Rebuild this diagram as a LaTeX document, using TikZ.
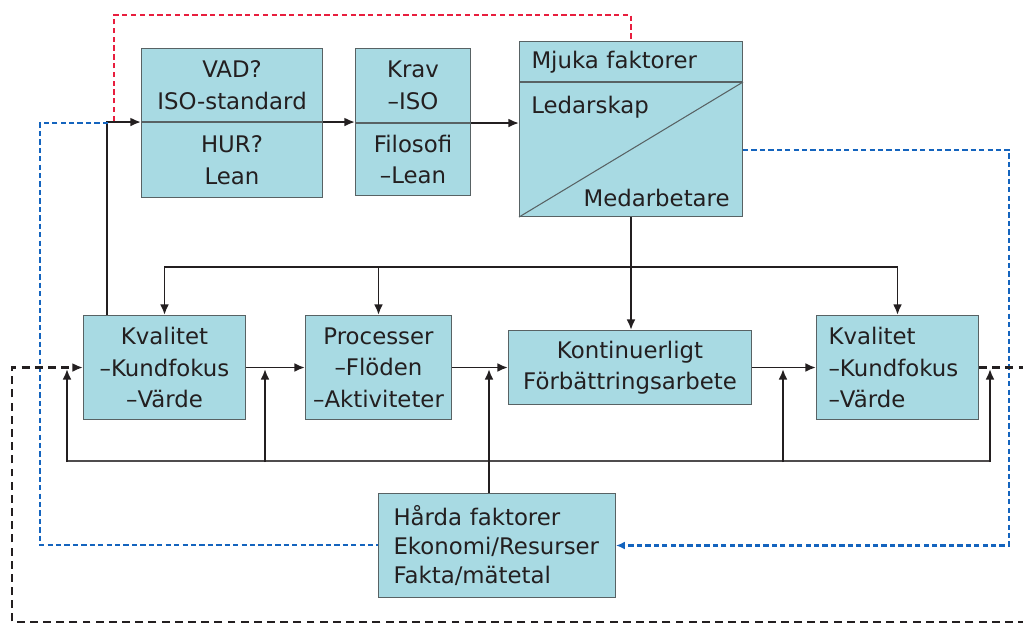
\documentclass[tikz,border=0pt]{standalone}
\usepackage{fontspec}
\setmainfont{DejaVu Sans}
\usetikzlibrary{arrows.meta, calc}
\definecolor{boxfill}{RGB}{168,218,227}
\definecolor{boxline}{RGB}{88,98,100}
\definecolor{txtgray}{RGB}{35,31,32}
\definecolor{dashred}{RGB}{232,30,62}
\definecolor{dashblue}{RGB}{20,100,190}

\begin{document}
\begin{tikzpicture}[x=0.02cm, y=-0.02cm,
  box/.style={draw=boxline, fill=boxfill, line width=0.6pt, inner sep=0pt, align=center,
    text=txtgray, anchor=north west, font=\fontsize{13}{18}\selectfont},
  lbox/.style={box, align=left, inner xsep=0.24cm},
  txt/.style={inner sep=0pt, text=txtgray, font=\fontsize{13}{18}\selectfont},
  arr/.style={draw=txtgray, line width=1.1pt, -{Latex[length=6pt,width=5pt]}},
  fb/.style={draw=txtgray!80, line width=0.9pt},
  reddash/.style={draw=dashred, line width=1.1pt, dash pattern=on 3pt off 2pt},
  bluedash/.style={draw=dashblue, line width=1.2pt, dash pattern=on 3pt off 1.8pt},
  blackdash/.style={draw=txtgray, line width=1.4pt, dash pattern=on 4.5pt off 3pt}]
\clip (0,0) rectangle (1023,624);

\node[box, minimum width=3.62cm, minimum height=1.46cm] (vad) at (141,48) {VAD?\\ISO-standard};
\node[box, minimum width=3.62cm, minimum height=1.5cm] (hur) at (vad.south west) {HUR?\\Lean};
\node[box, minimum width=2.3cm, minimum height=1.48cm] (krav) at (355,48) {Krav\\–ISO};
\node[box, minimum width=2.3cm, minimum height=1.44cm] (filo) at (krav.south west) {Filosofi\\–Lean};
\node[lbox, text width=3.98cm, minimum height=0.8cm, text depth=0.05cm] (mjuka) at (519,41) {Mjuka faktorer};
\node[box, minimum width=4.46cm, minimum height=2.68cm] (ledar) at (mjuka.south west) {};
\draw[draw=boxline, line width=0.6pt] (ledar.south west) -- (ledar.north east);
\node[txt, anchor=base west] (ledtxt) at ($(ledar.north west)+(12,31)$) {Ledarskap};
\node[txt, anchor=base east] (medtxt) at ($(ledar.south east)+(-13,-11)$) {Medarbetare};

\node[box, minimum width=3.24cm, minimum height=2.08cm] (kval1) at (83,315) {Kvalitet\\–Kundfokus\\–Värde};
\node[box, minimum width=2.92cm, minimum height=2.08cm] (proc) at (305,315) {Processer\\–Flöden\\–Aktiviteter};
\node[box, minimum width=4.86cm, minimum height=1.48cm] (kont) at (508,330) {Kontinuerligt\\Förbättringsarbete};
\node[lbox, text width=2.76cm, minimum height=2.08cm] (kval2) at (816,315) {Kvalitet\\–Kundfokus\\–Värde};
\node[lbox, inner xsep=0.3cm, text width=4.14cm, minimum height=2.08cm,
  font=\fontsize{13}{16.7}\selectfont] (haard) at (378,493) {Hårda faktorer\\Ekonomi/Resurser\\Fakta/mätetal};

\draw[arr] (vad.south east) -- (vad.south east -| krav.west);
\draw[arr] (filo.north east) -- (filo.north east -| ledar.west);
\draw[arr] ($(kval1.north west)+(24,0)$) |- (vad.south west);

\coordinate (bus) at ($(ledar.south)+(0,50)$);
\draw[arr] (ledar.south) -- (ledar.south |- kont.north);
\draw[arr] (bus) -| (kval1.north);
\draw[arr] (bus) -| (kval2.north);
\draw[arr] (proc.north |- bus) -- (proc.north);

\draw[arr] (kval1.east) -- (proc.west);
\draw[arr] (proc.east) -- (proc.east -| kont.west);
\draw[arr] (kont.east) -- (kont.east -| kval2.west);

% aterkoppling under raden
\coordinate (fbl) at (67,461);
\coordinate (fbr) at (990,461);
\draw[fb] (fbl) -- (fbr);
\foreach \xx in {67,265,783,990}
  \draw[arr] (\xx,462) -- (\xx,369);
\draw[arr] ($(haard.north)+(-8,0)$) -- ++(0,-124);

\coordinate (rs) at (114,121);
\draw[reddash] (rs) |- ($(mjuka.north)+(0,-26)$) -- (mjuka.north);

\coordinate (bs) at (108,123);
\coordinate (bl) at (40,545);
\draw[bluedash] (bs) -| (bl) -- (bl -| haard.west);
\draw[bluedash, -{Latex[length=5pt,width=4.5pt]}, dashblue] (ledar.east) -| ($(haard.east)+(393,0)$) -- (haard.east);

\coordinate (lpr) at (1040,622);
\coordinate (lpl) at (12,622);
\draw[blackdash, -{Latex[length=6pt,width=5pt]}] (kval2.east) -| (lpr) -- (lpl) |- (kval1.west);
\end{tikzpicture}
\end{document}
